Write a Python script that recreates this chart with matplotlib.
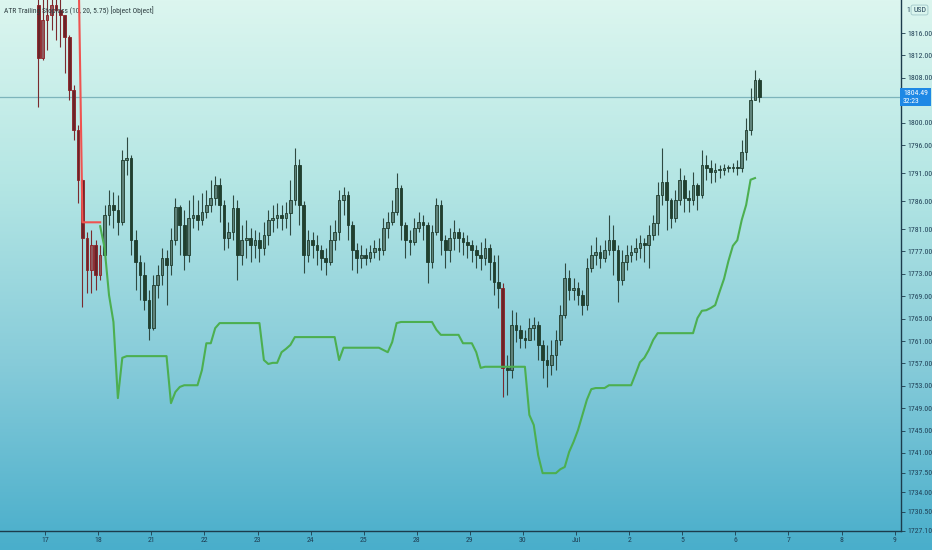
"""ATR trailing stop over hourly-ish gold candles, TradingView look."""
import matplotlib
matplotlib.use("Agg")
import matplotlib.pyplot as plt
import numpy as np
from matplotlib import font_manager
from matplotlib.colors import LinearSegmentedColormap
from matplotlib.font_manager import FontProperties

# ---- data --------------------------------------------------------------
day_labels = ["17", "18", "21", "22", "23", "24", "25", "28", "29", "30",
              "Jul", "2", "5", "6", "7", "8", "9"]
ytick_vals = [1816.0, 1812.0, 1808.0, 1800.0, 1796.0, 1791.0, 1786.0, 1781.0,
              1777.0, 1773.0, 1769.0, 1765.0, 1761.0, 1757.0, 1753.0, 1749.0,
              1745.0, 1741.0, 1737.5, 1734.0, 1730.5, 1727.1]

first_open = 1821.0
closes = [
    1811.5, 1818.3, 1819.2, 1821.0, 1820.1, 1819.2, 1815.3, 1805.8, 1798.7, 1789.8,
    1779.4, 1773.7, 1778.1, 1772.8, 1776.4, 1783.5, 1785.3, 1784.4, 1782.2, 1793.3,
    1793.7, 1779.0, 1775.1, 1772.8, 1768.3, 1763.3, 1771.0, 1772.8, 1775.8, 1774.6,
    1779.0, 1784.9, 1781.7, 1776.4, 1783.0, 1783.5, 1782.6, 1784.0, 1785.3, 1786.5,
    1788.9, 1785.3, 1779.4, 1780.5, 1784.7, 1776.4, 1779.0, 1779.4, 1778.1, 1779.0,
    1777.6, 1779.9, 1782.6, 1783.0, 1783.5, 1783.0, 1783.9, 1786.2, 1792.4, 1785.3,
    1776.4, 1779.0, 1778.1, 1777.3, 1775.8, 1775.1, 1779.0, 1780.5, 1786.2, 1787.1,
    1781.7, 1777.3, 1775.8, 1776.4, 1775.8, 1776.9, 1777.6, 1777.3, 1781.2, 1782.2,
    1784.0, 1788.3, 1781.7, 1779.0, 1778.7, 1781.2, 1782.2, 1781.7, 1775.1, 1780.5,
    1785.3, 1779.0, 1777.3, 1779.4, 1780.5, 1779.4, 1778.7, 1778.1, 1777.3, 1776.4,
    1775.8, 1777.6, 1775.1, 1771.5, 1770.5, 1756.2, 1755.8, 1763.9, 1763.0, 1761.5,
    1761.2, 1763.3, 1763.9, 1760.3, 1757.6, 1756.7, 1758.5, 1761.2, 1765.6, 1772.3,
    1770.1, 1770.5, 1769.2, 1767.4, 1774.0, 1776.4, 1776.9, 1775.8, 1777.3, 1779.0,
    1777.3, 1771.9, 1775.1, 1776.4, 1776.9, 1777.6, 1778.5, 1778.1, 1779.9, 1782.1,
    1787.1, 1789.4, 1786.2, 1783.0, 1786.2, 1789.8, 1786.5, 1786.2, 1788.9, 1787.1,
    1792.4, 1791.9, 1791.2, 1791.5, 1791.5, 1791.9, 1791.9, 1792.1, 1791.9, 1794.7,
    1798.7, 1804.0, 1807.6, 1804.49,
]
highs = [
    1822.8, 1823.7, 1823.3, 1824.0, 1823.7, 1822.4, 1819.2, 1815.6, 1806.7, 1799.6,
    1790.0, 1780.5, 1780.8, 1779.0, 1778.1, 1785.3, 1788.0, 1787.6, 1787.1, 1795.1,
    1797.4, 1794.2, 1780.8, 1776.4, 1775.1, 1770.1, 1772.8, 1774.6, 1777.6, 1777.3,
    1781.2, 1786.5, 1785.3, 1784.4, 1786.2, 1787.1, 1786.2, 1787.4, 1788.0, 1789.8,
    1790.5, 1790.1, 1786.2, 1782.2, 1787.1, 1786.2, 1781.7, 1782.6, 1781.2, 1780.8,
    1780.5, 1782.2, 1784.4, 1785.3, 1785.6, 1785.3, 1785.8, 1789.8, 1795.5, 1793.5,
    1786.0, 1780.8, 1780.5, 1779.9, 1778.1, 1777.6, 1781.7, 1782.6, 1788.0, 1788.5,
    1787.8, 1782.4, 1778.5, 1778.1, 1777.6, 1778.1, 1779.0, 1779.4, 1783.0, 1784.0,
    1786.2, 1791.0, 1788.9, 1782.2, 1780.8, 1783.0, 1784.0, 1783.5, 1782.2, 1781.7,
    1786.5, 1786.2, 1779.9, 1781.2, 1782.6, 1781.2, 1780.5, 1779.9, 1779.0, 1778.1,
    1778.7, 1779.4, 1778.3, 1776.4, 1776.4, 1771.4, 1758.5, 1766.5, 1766.2, 1763.9,
    1763.0, 1765.1, 1765.3, 1764.6, 1761.2, 1760.3, 1761.2, 1763.0, 1767.4, 1774.9,
    1773.7, 1772.3, 1771.5, 1770.1, 1775.8, 1778.1, 1779.5, 1778.1, 1779.0, 1783.5,
    1781.7, 1778.1, 1777.3, 1778.1, 1778.1, 1779.4, 1779.9, 1779.4, 1781.7, 1783.5,
    1789.4, 1795.5, 1791.5, 1786.5, 1788.0, 1791.9, 1790.6, 1788.0, 1791.2, 1789.2,
    1795.1, 1794.2, 1793.3, 1792.8, 1792.4, 1792.6, 1792.4, 1792.8, 1793.3, 1796.9,
    1800.8, 1806.2, 1809.4, 1808.0,
]
lows = [
    1802.8, 1811.2, 1813.0, 1816.5, 1814.7, 1813.5, 1808.9, 1804.0, 1796.9, 1785.6,
    1767.1, 1769.6, 1769.6, 1770.1, 1771.9, 1775.5, 1781.7, 1781.2, 1779.9, 1781.7,
    1790.6, 1776.4, 1770.1, 1768.3, 1766.5, 1761.2, 1763.0, 1768.7, 1771.0, 1767.4,
    1772.8, 1778.1, 1776.4, 1773.7, 1775.1, 1781.2, 1780.8, 1781.7, 1783.0, 1784.0,
    1785.3, 1782.2, 1777.3, 1777.6, 1779.0, 1771.9, 1774.6, 1775.8, 1775.1, 1775.8,
    1775.1, 1776.4, 1778.1, 1780.5, 1781.2, 1780.8, 1781.2, 1779.9, 1785.3, 1781.7,
    1773.1, 1775.1, 1775.8, 1774.6, 1773.7, 1772.8, 1774.6, 1777.3, 1779.0, 1783.5,
    1779.0, 1773.7, 1773.1, 1774.0, 1774.6, 1775.1, 1775.8, 1775.5, 1776.4, 1779.4,
    1781.7, 1783.5, 1779.0, 1775.8, 1776.4, 1778.1, 1780.5, 1779.0, 1771.4, 1774.0,
    1779.9, 1776.4, 1774.0, 1775.1, 1777.3, 1776.9, 1776.4, 1775.8, 1775.1, 1774.0,
    1773.7, 1774.6, 1771.9, 1769.2, 1766.9, 1751.0, 1751.3, 1754.4, 1760.8, 1759.8,
    1759.8, 1761.2, 1761.2, 1757.6, 1754.4, 1752.8, 1754.9, 1755.8, 1760.3, 1765.1,
    1768.3, 1768.3, 1767.4, 1765.6, 1766.5, 1773.3, 1774.6, 1774.0, 1775.1, 1776.4,
    1772.8, 1768.0, 1771.0, 1773.7, 1775.1, 1775.5, 1775.8, 1775.1, 1774.0, 1779.0,
    1779.9, 1785.3, 1780.8, 1781.2, 1782.2, 1785.3, 1784.0, 1784.0, 1785.3, 1784.4,
    1786.5, 1789.8, 1789.2, 1789.4, 1790.1, 1790.6, 1791.2, 1791.2, 1790.6, 1791.2,
    1793.3, 1797.8, 1804.0, 1803.7,
]
# bars painted in the "short" colour
short_bars = [0, 1, 2, 3, 4, 5, 6, 7, 8, 9, 10, 11, 12, 13, 14, 105]

# red (short) trailing stop, bars 0..14
short_stop = [1834.0, 1834.0, 1834.0, 1834.0, 1834.0, 1834.0, 1834.0, 1834.0,
              1834.0, 1834.0, 1782.2, 1782.2, 1782.2, 1782.2, 1782.2]
# green (long) trailing stop, from bar 14 to the end
long_stop_start = 14
long_stop = [
    1781.5, 1777.6, 1769.2, 1764.4, 1750.8, 1758.0, 1758.3,
    1758.3, 1758.3, 1758.3, 1758.3, 1758.3, 1758.3, 1758.3, 1758.3, 1758.3,
    1749.9, 1751.9, 1752.8, 1753.1, 1753.1, 1753.1, 1753.1, 1755.8, 1760.6, 1760.6,
    1763.3, 1764.2, 1764.2, 1764.2, 1764.2, 1764.2, 1764.2, 1764.2, 1764.2, 1764.2,
    1764.2, 1757.6, 1756.9, 1757.1, 1757.1, 1759.0, 1759.6, 1760.3, 1761.7,
    1761.7, 1761.7, 1761.7, 1761.7, 1761.7, 1761.7, 1761.7, 1761.7, 1761.7,
    1757.6, 1759.8, 1759.8, 1759.8, 1759.8, 1759.8, 1759.8, 1759.8, 1759.8, 1759.8,
    1759.4, 1759.0, 1760.8, 1764.2, 1764.4, 1764.4, 1764.4, 1764.4, 1764.4, 1764.4,
    1764.4, 1764.4, 1763.0, 1762.1, 1762.1, 1762.1, 1762.1, 1762.1, 1760.6, 1760.6,
    1760.6, 1759.0, 1756.2, 1756.4, 1756.4, 1756.4, 1756.4, 1756.4, 1756.4, 1756.4,
    1756.4, 1756.4, 1756.4, 1747.8, 1746.0, 1740.6, 1737.4, 1737.4, 1737.4, 1737.4,
    1738.1, 1738.5, 1741.2, 1743.0, 1745.1, 1747.8, 1750.5, 1752.4, 1752.6, 1752.6,
    1752.6, 1753.1, 1753.1, 1753.1, 1753.1, 1753.1, 1753.1, 1755.1, 1757.2, 1758.0,
    1759.4, 1761.2, 1762.4, 1762.4, 1762.4, 1762.4, 1762.4, 1762.4, 1762.4, 1762.4,
    1762.4, 1765.1, 1766.4, 1766.5, 1766.9, 1767.4, 1769.8, 1772.1, 1775.3, 1778.0,
    1779.0, 1782.6, 1785.3, 1789.8, 1790.1,
]
last_price = 1804.49
countdown = "32:23"
title = "ATR Trailing Stoploss (10, 20, 5.75) [object Object]"


def _narrow_font():
    """Pick a condensed sans if one is installed (TradingView labels are narrow)."""
    prefs = ("LiberationSansNarrow-Regular", "RobotoCondensed-Regular",
             "DejaVuSansCondensed.ttf", "OpenSans_Condensed-Regular")
    files = [f.fname for f in font_manager.fontManager.ttflist]
    for key in prefs:
        for fn in files:
            if key in fn:
                return FontProperties(fname=fn), 1.0
    return FontProperties(family=["Liberation Sans", "DejaVu Sans"]), 0.82


fp, fscale = _narrow_font()
title_size = 5.4 * fscale
tick_size = 5.6 * fscale

# ---- layout ---------------------------------------------------------------
W, H = 932, 550
bars_per_day = 12
first_bar_pos = -0.13
n = len(closes)
x = first_bar_pos + np.arange(n) / bars_per_day
opens = np.array([first_open] + closes[:-1])
c = np.array(closes)
hi = np.maximum(np.array(highs), np.maximum(opens, c))
lo = np.minimum(np.array(lows), np.minimum(opens, c))
is_short = np.isin(np.arange(n), short_bars)

fig = plt.figure(figsize=(W / 100, H / 100), dpi=100)

# background gradient over the whole canvas
bg = fig.add_axes([0, 0, 1, 1], zorder=-10)
cmap = LinearSegmentedColormap.from_list(
    "tv", ["#dcf6ef", "#b4e6e4", "#86cbd9", "#49aecb"])
bg.imshow(np.linspace(0, 1, 256).reshape(-1, 1), aspect="auto", cmap=cmap,
          extent=[0, 1, 0, 1], origin="upper")
bg.set_axis_off()

ax = fig.add_axes([0, 19 / H, 901 / W, 531 / H])
ax.set_facecolor("none")
ax.set_xlim(-0.85, 16.12)
ax.set_ylim(1727.07, 1821.9)

# last price line
ax.axhline(last_price, color="#7db4bb", lw=0.9, zorder=1)

# candles
wick_col = np.where(is_short, "#7a2a2e", "#2f4a42")
ax.vlines(x, lo, hi, colors=wick_col, lw=0.8, zorder=2)
up = c >= opens
body_lo = np.minimum(opens, c)
body_h = np.maximum(np.abs(c - opens), 0.25)
face = np.where(is_short, np.where(up, "#8f5a5e", "#6a2428"),
                np.where(up, "#5f827a", "#21402f"))
edge = np.where(is_short, "#8e1f24", "#1e3b2c")
ax.bar(x, body_h, bottom=body_lo, width=0.05, color=face, edgecolor=edge,
       linewidth=0.6, zorder=3)

# trailing stops
ax.plot(x[:len(short_stop)], short_stop, color="#ef5350", lw=1.5, zorder=4)
ax.plot(x[long_stop_start:long_stop_start + len(long_stop)], long_stop,
        color="#4caf50", lw=1.5, zorder=4)

# axes styling
for s in ("top", "left"):
    ax.spines[s].set_visible(False)
for s in ("bottom", "right"):
    ax.spines[s].set_color("#1c3b4c")
    ax.spines[s].set_linewidth(1.0)
ax.yaxis.tick_right()
ax.set_yticks(ytick_vals)
ax.set_yticklabels([f"{v:.2f}" for v in ytick_vals])
ax.set_xticks(range(len(day_labels)))
ax.set_xticklabels(day_labels)
ax.tick_params(axis="both", colors="#1c3b4c", length=3, width=0.6,
               direction="out", pad=1.5)
ax.tick_params(axis="both", labelcolor="#1f3f55")
for lbl in ax.get_xticklabels() + ax.get_yticklabels():
    lbl.set_fontproperties(fp)
    lbl.set_fontsize(tick_size)

# title
ax.text(4 / 901, 1 - 11 / 531, title, transform=ax.transAxes,
        fontproperties=fp, fontsize=title_size, color="#2b3a3e",
        va="center", ha="left")

# price label and currency box on the price scale
fig.text(903 / W, 1 - 97 / H, f"{last_price:.2f}\n{countdown}",
         fontproperties=fp, fontsize=tick_size, color="white",
         va="center", ha="left", linespacing=1.25,
         bbox=dict(boxstyle="square,pad=0.35", fc="#1e88e5", ec="none"))
fig.text(906 / W, 1 - 10 / H, "1", fontproperties=fp, fontsize=tick_size,
         color="#1f3f55", va="center", ha="left")
fig.text(913 / W, 1 - 10 / H, "USD", fontproperties=fp, fontsize=tick_size,
         color="#1f3f55", va="center", ha="left",
         bbox=dict(boxstyle="round,pad=0.25", fc="none", ec="#9fc6c8", lw=0.6))

fig.savefig("out.png", dpi=100)
